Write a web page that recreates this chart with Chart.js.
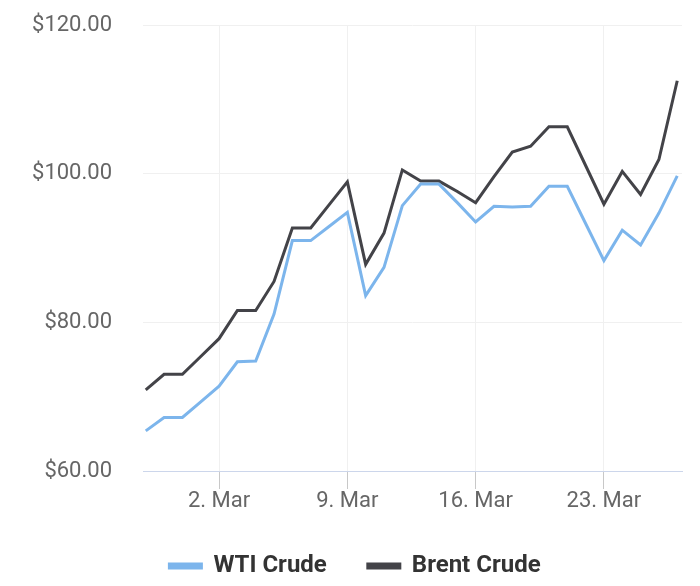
<!DOCTYPE html>
<html><head><meta charset="utf-8">
<script src="https://cdn.jsdelivr.net/npm/chart.js@4/dist/chart.umd.min.js"></script>
<style>html,body{margin:0;padding:0;background:#fff}#wrap{width:700px;height:586px;position:relative}</style>
</head><body><div id="wrap"><canvas id="c"></canvas></div>
<script>
const dates = ["27. Feb","28. Feb","29. Feb","1. Mar","2. Mar","3. Mar","4. Mar","5. Mar","6. Mar","7. Mar",
  "8. Mar","9. Mar","10. Mar","11. Mar","12. Mar","13. Mar","14. Mar","15. Mar","16. Mar","17. Mar",
  "18. Mar","19. Mar","20. Mar","21. Mar","22. Mar","23. Mar","24. Mar","25. Mar","26. Mar","27. Mar"];
const wti = [65.4,67.2,67.2,69.3,71.4,74.7,74.8,81.1,91.0,91.0,92.9,94.8,83.6,87.4,95.7,98.6,98.6,96.1,93.5,95.6,95.5,95.6,98.3,98.3,93.3,88.3,92.4,90.4,94.7,99.7];
const brent = [70.9,73.0,73.0,75.4,77.8,81.6,81.6,85.5,92.7,92.7,95.8,98.9,87.8,92.0,100.5,99.0,99.0,97.6,96.1,99.6,102.9,103.7,106.3,106.3,101.1,95.9,100.3,97.2,101.9,112.5];
const xTickLabels = ["2. Mar","9. Mar","16. Mar","23. Mar"];
const yTicks = [60,80,100,120];

const toPts = arr => arr.map((v,i)=>({x:i,y:v}));
const xTickIdx = xTickLabels.map(l=>dates.indexOf(l));

new Chart(document.getElementById('c'), {
  type:'line',
  data:{datasets:[
    {label:'WTI Crude', data:toPts(wti), borderColor:'#7cb5ec', backgroundColor:'#7cb5ec', borderWidth:3, pointRadius:0, tension:0},
    {label:'Brent Crude', data:toPts(brent), borderColor:'#434348', backgroundColor:'#434348', borderWidth:3, pointRadius:0, tension:0}
  ]},
  options:{
    responsive:true, maintainAspectRatio:false, animation:false,
    layout:{padding:{top:25,right:18,left:28,bottom:-2}},
    plugins:{
      tooltip:{enabled:false},
      legend:{position:'bottom',
        labels:{font:{family:'Roboto',size:24,weight:'bold'},color:'#333333',boxWidth:32,boxHeight:4,padding:41}}
    },
    scales:{
      x:{type:'linear',min:-0.15,max:29.26,
        afterBuildTicks:s=>{s.ticks=xTickIdx.map(v=>({value:v}));},
        afterFit:s=>{s.height=42;},
        ticks:{callback:v=>dates[v],font:{family:'Roboto',size:22},color:'#666666',padding:-1,maxRotation:0,autoSkip:false},
        grid:{color:'#f0f0f0',lineWidth:1,tickColor:'#c8c8c8',tickLength:18,drawTicks:true},
        border:{color:'#ccd6eb',width:1}
      },
      y:{min:60,max:120,
        afterBuildTicks:s=>{s.ticks=yTicks.map(v=>({value:v}));},
        afterFit:s=>{s.width=115;},
        ticks:{callback:v=>'$'+Number(v).toFixed(2),font:{family:'Roboto',size:22},color:'#666666',padding:0},
        grid:{color:'#f0f0f0',lineWidth:1,drawTicks:true,tickLength:31,tickColor:'rgba(0,0,0,0)'},
        border:{display:false}
      }
    }
  }
});
</script></body></html>
